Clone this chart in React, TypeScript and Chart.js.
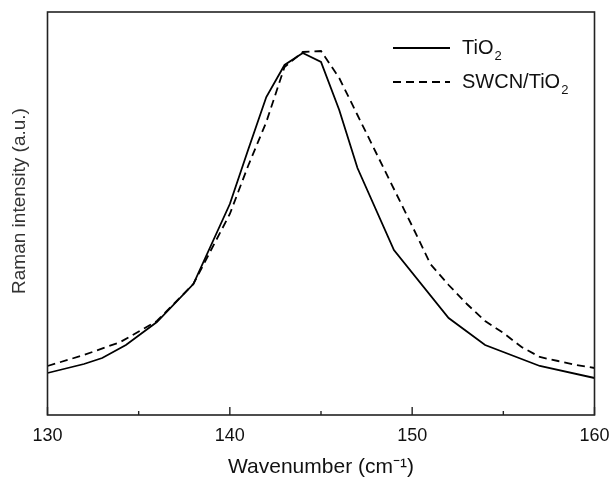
import React, { useEffect, useRef } from "react";
import { Chart, registerables } from "chart.js";

Chart.register(...registerables);

// Raman shift (cm^-1) and intensity (a.u.)
const tio2Wavenumber = [130, 132, 133, 134.3, 136, 138, 140, 141, 142, 143, 144, 145, 146, 147, 149, 152, 154, 157, 160];
const tio2Intensity = [42, 51, 57, 70, 93, 131, 211, 265, 318, 350, 362, 353, 305, 247, 165, 97, 70, 49, 37];

const swcnWavenumber = [130, 132, 134, 136, 138, 140, 141, 142, 143, 144, 145, 146, 147, 148, 149, 150, 151, 152, 153, 154, 155, 156, 157, 158, 159, 160];
const swcnIntensity = [49, 60, 73, 94, 131, 201, 249, 293, 348, 363, 364, 337, 300, 263, 226, 189, 151, 130, 111, 94, 82, 68, 58, 54, 50, 47];

const xTickValues = [130, 140, 150, 160];
const xMinorTickValues = [135, 145, 155];
const seriesLabels = ["TiO2", "SWCN/TiO2"];
const yTitle = "Raman intensity (a.u.)";

const FONT = "'Liberation Sans', Arial, Helvetica, sans-serif";

const framePlugin = {
  id: "frameAndTicks",
  afterDraw(chart: any) {
    const { ctx, chartArea } = chart;
    const xs = chart.scales.x;
    ctx.save();
    ctx.strokeStyle = "#222";
    ctx.lineWidth = 1.6;
    ctx.strokeRect(chartArea.left, chartArea.top, chartArea.right - chartArea.left, chartArea.bottom - chartArea.top);
    ctx.lineWidth = 1.4;
    for (const v of xTickValues) {
      const px = xs.getPixelForValue(v);
      ctx.beginPath();
      ctx.moveTo(px, chartArea.bottom);
      ctx.lineTo(px, chartArea.bottom - 8);
      ctx.stroke();
    }
    for (const v of xMinorTickValues) {
      const px = xs.getPixelForValue(v);
      ctx.beginPath();
      ctx.moveTo(px, chartArea.bottom);
      ctx.lineTo(px, chartArea.bottom - 4);
      ctx.stroke();
    }
    // y-axis title
    ctx.save();
    ctx.translate(20, 201);
    ctx.rotate(-Math.PI / 2);
    ctx.font = `19px ${FONT}`;
    ctx.fillStyle = "#333";
    ctx.textAlign = "center";
    ctx.textBaseline = "middle";
    ctx.fillText(yTitle, 0, 0);
    ctx.restore();
    // legend
    const lx0 = 393, lx1 = 450, tx = 462;
    const rows = [
      { y: 48, dash: [] as number[], label: seriesLabels[0] },
      { y: 82, dash: [8, 5], label: seriesLabels[1] },
    ];
    ctx.fillStyle = "#111";
    ctx.strokeStyle = "#000";
    ctx.lineWidth = 1.8;
    for (const r of rows) {
      ctx.setLineDash(r.dash);
      ctx.beginPath();
      ctx.moveTo(lx0, r.y);
      ctx.lineTo(lx1, r.y);
      ctx.stroke();
      ctx.setLineDash([]);
      const main = r.label.slice(0, -1);
      const sub = r.label.slice(-1);
      ctx.font = `20px ${FONT}`;
      ctx.textBaseline = "middle";
      ctx.textAlign = "left";
      ctx.fillText(main, tx, r.y);
      const w = ctx.measureText(main).width;
      ctx.font = `13px ${FONT}`;
      ctx.fillText(sub, tx + w + 1, r.y + 8);
    }
    ctx.restore();
  },
};

export default function App() {
  const ref = useRef<HTMLCanvasElement | null>(null);
  useEffect(() => {
    document.body.style.margin = "0";
    const canvas = ref.current!;
    const chart = new Chart(canvas, {
      type: "line",
      data: {
        datasets: [
          {
            label: seriesLabels[0],
            data: tio2Wavenumber.map((x, i) => ({ x, y: tio2Intensity[i] })),
            borderColor: "#000",
            borderWidth: 1.8,
            pointRadius: 0,
            tension: 0,
            fill: false,
          },
          {
            label: seriesLabels[1],
            data: swcnWavenumber.map((x, i) => ({ x, y: swcnIntensity[i] })),
            borderColor: "#000",
            borderWidth: 1.8,
            borderDash: [8, 5],
            pointRadius: 0,
            tension: 0,
            fill: false,
          },
        ],
      },
      options: {
        animation: false,
        responsive: false,
        events: [],
        layout: { padding: { left: 0, right: 17.5, top: 12, bottom: 0 } },
        plugins: { legend: { display: false }, tooltip: { enabled: false } },
        scales: {
          x: {
            type: "linear",
            min: 130,
            max: 160,
            grid: { display: false, drawTicks: false },
            border: { display: false },
            ticks: {
              stepSize: 5,
              autoSkip: false,
              maxRotation: 0,
              padding: 10,
              color: "#111",
              font: { family: FONT, size: 18 },
              callback: (v: any) => (Number(v) % 10 === 0 ? String(v) : ""),
            },
            title: {
              display: true,
              text: "Wavenumber (cm⁻¹)",
              color: "#111",
              font: { family: FONT, size: 21 },
              padding: { top: 0, bottom: 2 },
            },
            afterFit: (s: any) => {
              s.height = 67;
              s.paddingLeft = 0;
              s.paddingRight = 0;
            },
          },
          y: {
            min: 0,
            max: 403,
            grid: { display: false, drawTicks: false },
            border: { display: false },
            ticks: { display: false },
            title: { display: false },
            afterFit: (s: any) => {
              s.width = 47.5;
              s.paddingTop = 0;
              s.paddingBottom = 0;
            },
          },
        },
      },
      plugins: [framePlugin],
    });
    return () => chart.destroy();
  }, []);
  return <canvas ref={ref} width={612} height={482} style={{ display: "block" }} />;
}
